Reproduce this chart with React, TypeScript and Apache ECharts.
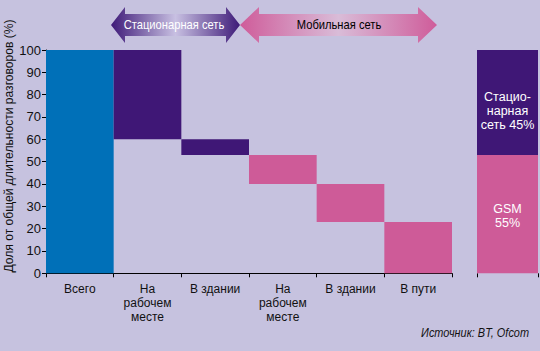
import React, { useEffect, useRef } from "react";
import * as echarts from "echarts";

const categories = ["Всего", "На\nрабочем\nместе", "В здании", "На\nрабочем\nместе", "В здании", "В пути"];
const barBottoms = [0, 60, 53, 40, 23, 0];
const barTops = [100, 100, 60, 53, 40, 23];
const barGroups = ["total", "fixed", "fixed", "mobile", "mobile", "mobile"];
const yTicks = { min: 0, max: 100, interval: 10 };
const mixCategories = ["Итого"];
const mixGsm = [53];
const mixFixed = [47];
const mixLabels = ["GSM\n55%", "Стацио-\nнарная\nсеть 45%"];
const arrowLabels = ["Стационарная сеть", "Мобильная сеть"];
const yTitle = "Доля от общей длительности разговоров (%)";
const sourceText = "Источник: BT, Ofcom";

const FONT = "'Liberation Sans', Arial, sans-serif";
const BG = "#C6C2DF";
const COLORS: Record<string, string> = { total: "#0070B8", fixed: "#3F1776", mobile: "#CE5B98" };

export default function App() {
  const ref = useRef<HTMLDivElement>(null);
  useEffect(() => {
    if (!ref.current) return;
    const chart = echarts.init(ref.current, null, { renderer: "svg" });
    const grad = (end: string, mid: string) =>
      new echarts.graphic.LinearGradient(0, 0, 1, 0, [
        { offset: 0, color: end },
        { offset: 0.5, color: mid },
        { offset: 1, color: end },
      ]);
    const arrow = (x1: number, x2: number, head: number) => [
      [x1, 25], [x1 + head, 7], [x1 + head, 14], [x2 - head, 14], [x2 - head, 7], [x2, 25],
      [x2 - head, 43], [x2 - head, 36], [x1 + head, 36], [x1 + head, 43],
    ];
    const mixLabel = (text: string, pos: [string, string]) => ({
      show: true, position: pos, align: "center", verticalAlign: "middle",
      formatter: text, color: "#fff", fontFamily: FONT, fontSize: 12.5, lineHeight: 14,
    });
    chart.setOption({
      animation: false,
      backgroundColor: BG,
      grid: [
        { left: 46, right: 88, top: 50, bottom: 77.7 },
        { left: 477, width: 61, top: 50, bottom: 77.7 },
      ],
      xAxis: [
        {
          type: "category", gridIndex: 0, data: categories,
          axisLine: { lineStyle: { color: "#000", width: 1 } },
          axisTick: { show: true, length: 4, lineStyle: { color: "#000" } },
          axisLabel: { color: "#111", fontFamily: FONT, fontSize: 12, lineHeight: 14, margin: 9, interval: 0 },
        },
        {
          type: "category", gridIndex: 1, data: mixCategories,
          axisLine: { show: false },
          axisTick: { show: true, length: 4, lineStyle: { color: "#000" } },
          axisLabel: { show: false },
        },
      ],
      yAxis: [
        {
          type: "value", gridIndex: 0, min: yTicks.min, max: yTicks.max, interval: yTicks.interval,
          splitLine: { show: false },
          axisLine: { show: true, lineStyle: { color: "#000" } },
          axisTick: { show: true, length: 4, lineStyle: { color: "#000" } },
          axisLabel: { color: "#111", fontFamily: FONT, fontSize: 13, margin: 5 },
        },
        {
          type: "value", gridIndex: 1, min: yTicks.min, max: yTicks.max, show: false,
        },
      ],
      series: [
        {
          type: "bar", xAxisIndex: 0, yAxisIndex: 0, stack: "w",
          data: barBottoms, itemStyle: { color: "transparent" }, barWidth: "100%", silent: true,
        },
        {
          type: "bar", xAxisIndex: 0, yAxisIndex: 0, stack: "w", barWidth: "100%",
          data: barTops.map((t, i) => ({ value: t - barBottoms[i], itemStyle: { color: COLORS[barGroups[i]] } })),
        },
        {
          type: "bar", xAxisIndex: 1, yAxisIndex: 1, stack: "m", barWidth: "100%",
          data: mixGsm, itemStyle: { color: COLORS.mobile },
          label: mixLabel(mixLabels[0], ["50%", "52%"]),
        },
        {
          type: "bar", xAxisIndex: 1, yAxisIndex: 1, stack: "m", barWidth: "100%",
          data: mixFixed, itemStyle: { color: COLORS.fixed },
          label: mixLabel(mixLabels[1], ["50%", "58%"]),
        },
      ],
      graphic: [
        {
          type: "polygon", shape: { points: arrow(240, 437, 19) },
          style: { fill: grad("#CF5C9A", "#D9BCD8") },
        },
        {
          type: "polygon", shape: { points: arrow(111, 240, 14) },
          style: { fill: grad("#3E1A78", "#C8C0E2") },
        },
        {
          type: "text", x: 174, y: 25, scaleX: 0.86,
          style: { text: arrowLabels[0], fill: "#fff", font: `13px ${FONT}`, align: "center", verticalAlign: "middle" },
        },
        {
          type: "text", x: 339, y: 25, scaleX: 0.86,
          style: { text: arrowLabels[1], fill: "#000", font: `13px ${FONT}`, align: "center", verticalAlign: "middle" },
        },
        {
          type: "text", x: 9, y: 146, rotation: Math.PI / 2, scaleX: 0.93,
          style: { text: yTitle, fill: "#111", font: `13px ${FONT}`, align: "center", verticalAlign: "middle" },
        },
        {
          type: "text", x: 529, y: 333, scaleX: 0.84,
          style: { text: sourceText, fill: "#111", font: `italic 13px ${FONT}`, align: "right", verticalAlign: "middle" },
        },
      ],
    });
    return () => chart.dispose();
  }, []);
  return <div ref={ref} style={{ width: 540, height: 351, position: "absolute", left: 0, top: 0 }} />;
}
